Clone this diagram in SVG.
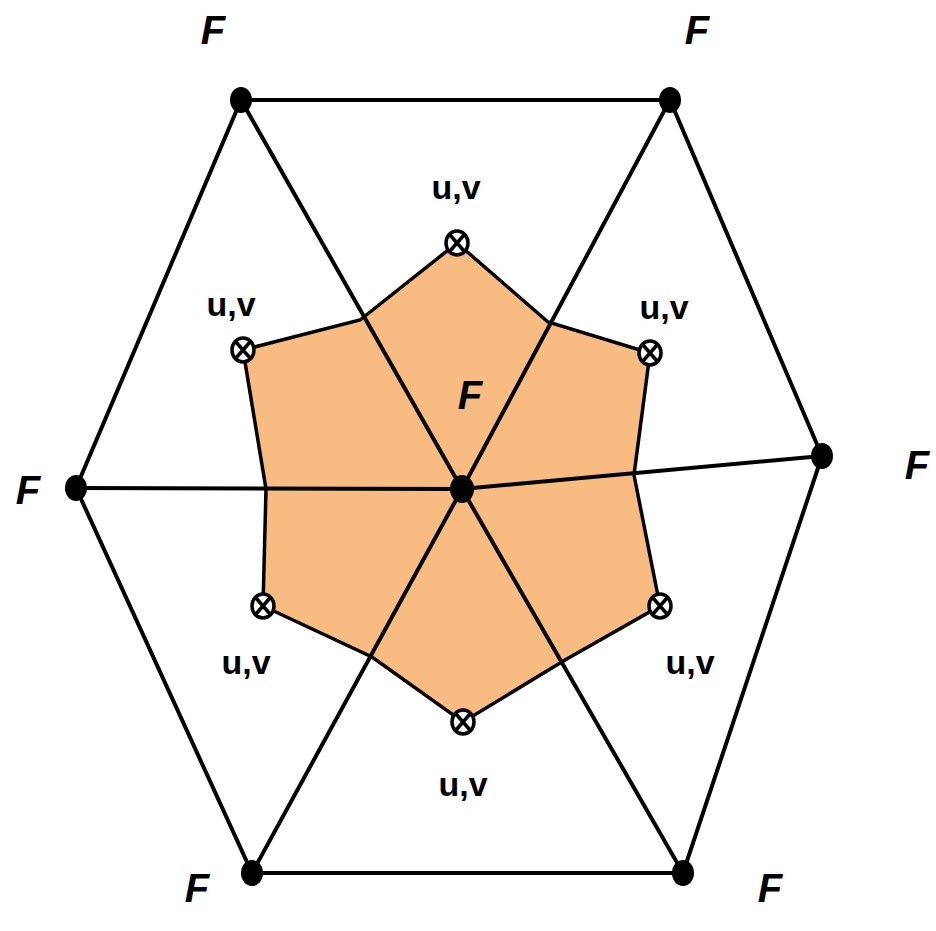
<svg xmlns="http://www.w3.org/2000/svg" width="936" height="931" viewBox="0 0 936 931">
<style>
.e{stroke:#000;stroke-width:4;fill:none}
.F{font-family:"Liberation Sans",sans-serif;font-weight:bold;font-style:italic;font-size:40px;text-anchor:middle}
.u{font-family:"Liberation Sans",sans-serif;font-weight:bold;font-size:34px;text-anchor:middle}
.m{fill:#fff;stroke:#000;stroke-width:3.5}
</style>
<defs>
<g id="uv"><ellipse rx="11" ry="12" class="m"/><path d="M-7,-8L7,8M7,-8L-7,8" stroke="#000" stroke-width="3.5"/></g>
</defs>
<rect width="936" height="931" fill="#fff"/>
<g id="region"><polygon points="243,350 360,320 457,243 548,322 650,353 634,475 660,606 565,660 463,722 372,657 263,606 266,489" fill="#f8bb82" stroke="#000" stroke-width="3.5"/></g>
<g id="connectors" class="e">
<polygon points="241,100 670,100 822,456 683,873 252,873 76,488"/>
<path d="M462,489L241,100M462,489L670,100M462,489L822,456M462,489L683,873M462,489L252,873M462,489L76,488"/>
</g>
<g id="nodes">
<g id="n1"><ellipse cx="241" cy="100" rx="11" ry="13"/></g>
<g id="n2"><ellipse cx="670" cy="100" rx="11" ry="13"/></g>
<g id="n3"><ellipse cx="822" cy="456" rx="11" ry="13"/></g>
<g id="n4"><ellipse cx="683" cy="873" rx="11" ry="13"/></g>
<g id="n5"><ellipse cx="252" cy="873" rx="11" ry="13"/></g>
<g id="n6"><ellipse cx="76" cy="488" rx="11" ry="13"/></g>
<g id="c"><ellipse cx="462" cy="489" rx="12" ry="14"/></g>
<use href="#uv" x="457" y="243"/>
<use href="#uv" x="650" y="353"/>
<use href="#uv" x="660" y="606"/>
<use href="#uv" x="463" y="722"/>
<use href="#uv" x="263" y="606"/>
<use href="#uv" x="243" y="350"/>
</g>
<g id="labels">
<text class="F" x="213" y="44">F</text>
<text class="F" x="697" y="44">F</text>
<text class="F" x="917" y="479">F</text>
<text class="F" x="28" y="504">F</text>
<text class="F" x="197" y="902">F</text>
<text class="F" x="770" y="902">F</text>
<text class="F" x="470" y="409">F</text>
<text class="u" x="456" y="199">u,v</text>
<text class="u" x="664" y="319">u,v</text>
<text class="u" x="690" y="674">u,v</text>
<text class="u" x="463" y="796">u,v</text>
<text class="u" x="246" y="674">u,v</text>
<text class="u" x="231" y="316">u,v</text>
</g>
</svg>
